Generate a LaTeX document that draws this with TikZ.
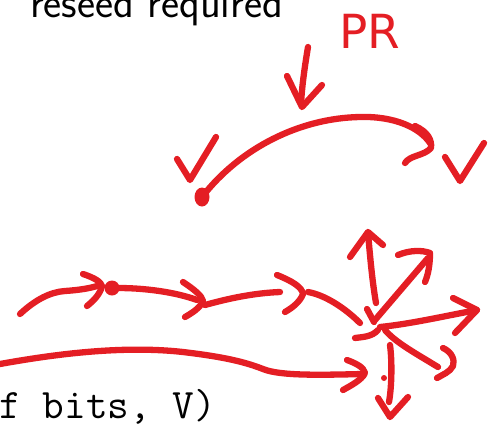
\documentclass[tikz,border=0pt]{standalone}
\usepackage{fontspec}
\newfontfamily\handfont{DejaVu Sans}
\definecolor{inkred}{RGB}{228,30,36}
\tikzset{
  ink/.style={draw=inkred, line width=6.3pt, line cap=round, line join=round},
  inkdot/.style={fill=inkred},
}
\begin{document}
\begin{tikzpicture}[x=1pt,y=-1pt]
\useasboundingbox (0,0) rectangle (492,424);
% texts
\node[anchor=base west, inner sep=0pt, font=\sffamily\fontsize{43}{50}\selectfont] (t1) at (30,17) {reseed required};
\node[anchor=base east, inner sep=0pt, font=\ttfamily\fontsize{42}{48}\selectfont] (t2) at (216,418) {f bits, V)};
\node[inner sep=0pt, text=inkred, font=\handfont\fontsize{47}{50}\selectfont] (pr) at (370,31) {PR};
% top: down arrow
\draw[ink] (308,47) .. controls (305,65) and (302,85) .. (301,104);
\draw[ink] (287,76) -- (302,107) -- (322,85);
% arc
\draw[ink] (202,197) .. controls (240,148) and (300,118) .. (360,117) .. controls (395,116) and (420,128) .. (430,143);
\draw[ink] (415,126) .. controls (428,132) and (432,140) .. (431,148) .. controls (424,156) and (410,155) .. (405,163);
\fill[inkdot] (202,197) ellipse (7.5 and 9.5);
% checks
\draw[ink] (177,159) -- (190,180) -- (216,137);
\draw[ink] (445,157) -- (460,181) -- (484,143);
% bottom chain
\draw[ink] (20,314) .. controls (35,300) and (50,292) .. (65,291) .. controls (80,290) and (92,288) .. (100,285);
\draw[ink] (83,274) .. controls (95,278) and (101,282) .. (102,286) .. controls (100,295) and (92,302) .. (87,306);
\fill[inkdot] (112,288) circle (7.5);
\draw[ink] (118,288) .. controls (145,288) and (175,292) .. (197,300);
\draw[ink] (183,282) .. controls (195,290) and (202,296) .. (203,301) .. controls (200,308) and (192,313) .. (185,317);
\draw[ink] (205,305) .. controls (230,298) and (255,293) .. (280,292);
\draw[ink] (277,275) .. controls (292,281) and (302,287) .. (303,294) .. controls (300,302) and (292,308) .. (285,312);
\draw[ink] (308,292) .. controls (325,295) and (345,308) .. (360,323);
% lower long curve
\draw[ink] (0,364) .. controls (50,355) and (120,345) .. (183,352) .. controls (225,357) and (245,362) .. (263,369) .. controls (280,376) and (320,375) .. (363,374);
\draw[ink] (347,360) .. controls (355,363) and (364,367) .. (365,373) .. controls (362,380) and (350,386) .. (343,390);
% burst
\draw[ink] (376,303) .. controls (372,280) and (370,255) .. (368,233);
\draw[ink] (350,257) -- (368,232) -- (383,245);
\draw[ink] (367,309) -- (374,322);
\draw[ink] (375,320) -- (428,258);
\draw[ink] (398,255) .. controls (410,250) and (422,250) .. (430,253) .. controls (430,265) and (428,275) .. (425,282);
\draw[ink] (380,327) .. controls (410,324) and (445,316) .. (477,310);
\draw[ink] (453,298) -- (477,310) -- (455,333);
\draw[ink] (355,338) .. controls (362,337) and (372,337) .. (378,330);
\draw[ink] (385,330) .. controls (395,342) and (415,353) .. (438,367);
\draw[ink] (443,348) .. controls (452,352) and (455,360) .. (453,366) .. controls (450,372) and (442,375) .. (437,378);
\draw[ink] (390,345) .. controls (392,360) and (392,385) .. (389,402);
\draw[ink] (378,398) -- (390,417) -- (408,397);
\fill[inkdot] (384,378) circle (3);
\end{tikzpicture}
\end{document}
